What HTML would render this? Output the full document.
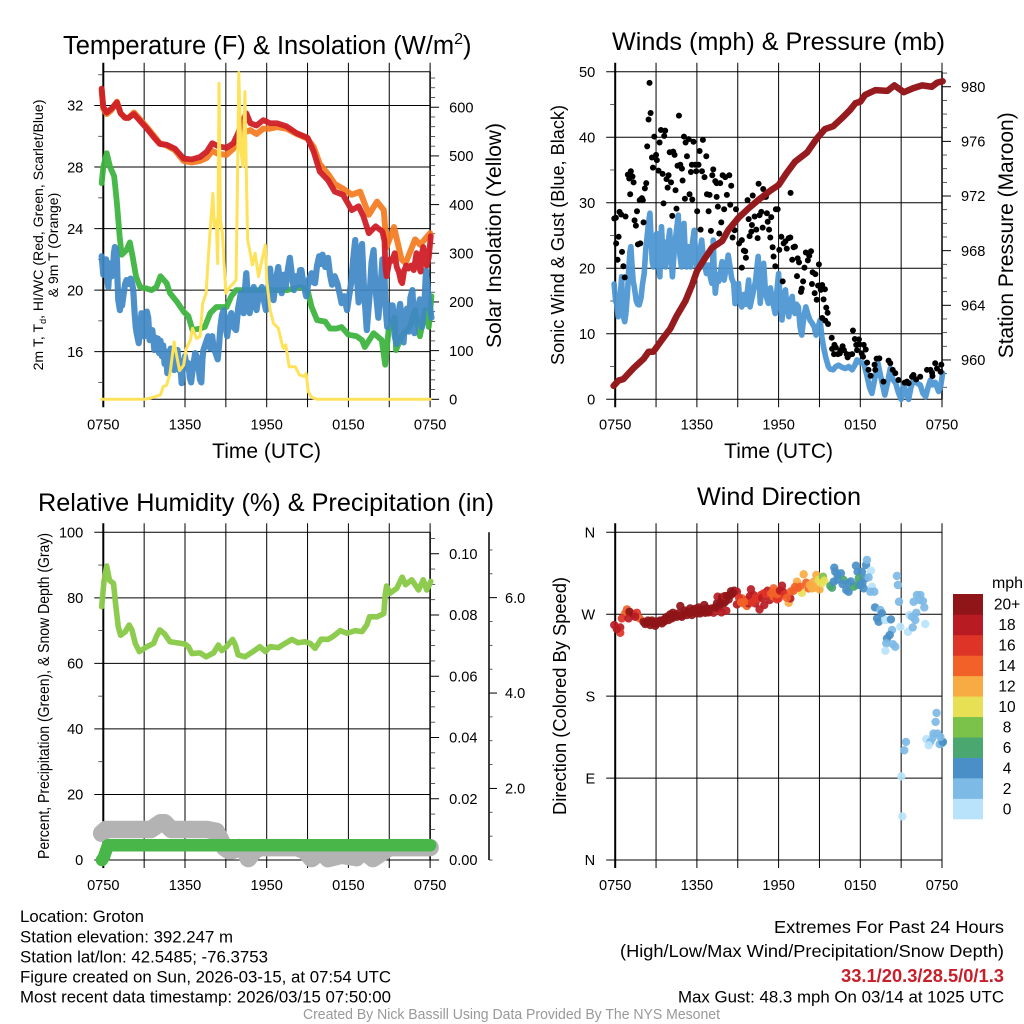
<!DOCTYPE html>
<html lang="en">
<head>
<meta charset="utf-8">
<title>Groton Mesonet Meteogram</title>
<style>
html,body{margin:0;padding:0;background:#fff;width:1024px;height:1024px;overflow:hidden}
svg{display:block}
text{font-family:"Liberation Sans",Arial,sans-serif;fill:#000}
</style>
</head>
<body>
<svg id="figure" xmlns="http://www.w3.org/2000/svg" width="1024" height="1024" viewBox="0 0 1024 1024">
<rect x="0" y="0" width="1024" height="1024" fill="#fff"/>
<g id="p1"></g>
<g id="p2"></g>
<g id="p3"></g>
<g id="p4"></g>

<text x="63" y="54" font-size="25.5">Temperature (F) &amp; Insolation (W/m<tspan font-size="16" dy="-10">2</tspan><tspan dy="10">)</tspan></text>
<text x="612" y="50" font-size="25.2" textLength="333" lengthAdjust="spacingAndGlyphs">Winds (mph) &amp; Pressure (mb)</text>
<text x="38" y="511" font-size="25.2" textLength="456" lengthAdjust="spacingAndGlyphs">Relative Humidity (%) &amp; Precipitation (in)</text>
<text x="697" y="505" font-size="25.2" textLength="164" lengthAdjust="spacingAndGlyphs">Wind Direction</text>

<text x="266.6" y="458" font-size="21" text-anchor="middle">Time (UTC)</text>
<text x="778.6" y="458" font-size="21" text-anchor="middle">Time (UTC)</text>

<text transform="translate(43 235) rotate(-90)" font-size="14.1" text-anchor="middle">2m T, T<tspan font-size="9" dy="3">d</tspan><tspan dy="-3">, HI/WC (Red, Green, Scarlet/Blue)</tspan></text>
<text transform="translate(58 245) rotate(-90)" font-size="14" text-anchor="middle">&amp; 9m T (Orange)</text>
<text transform="translate(501 235.5) rotate(-90)" font-size="20.8" text-anchor="middle" textLength="225" lengthAdjust="spacingAndGlyphs">Solar Insolation (Yellow)</text>
<text transform="translate(564 235) rotate(-90)" font-size="18" text-anchor="middle" textLength="260" lengthAdjust="spacingAndGlyphs">Sonic Wind &amp; Gust (Blue, Black)</text>
<text transform="translate(1013 235.3) rotate(-90)" font-size="20.8" text-anchor="middle" textLength="246" lengthAdjust="spacingAndGlyphs">Station Pressure (Maroon)</text>
<text transform="translate(49 696) rotate(-90)" font-size="15.4" text-anchor="middle" textLength="326" lengthAdjust="spacingAndGlyphs">Percent, Precipitation (Green), &amp; Snow Depth (Gray)</text>
<text transform="translate(566 696) rotate(-90)" font-size="18" text-anchor="middle" textLength="238" lengthAdjust="spacingAndGlyphs">Direction (Colored By Speed)</text>

<text x="992" y="588" font-size="15.5" textLength="31" lengthAdjust="spacingAndGlyphs">mph</text>

<g font-size="16.7">
<text x="20" y="922" textLength="124" lengthAdjust="spacingAndGlyphs">Location: Groton</text>
<text x="20" y="942.3" textLength="213" lengthAdjust="spacingAndGlyphs">Station elevation: 392.247 m</text>
<text x="20" y="962.3" textLength="248" lengthAdjust="spacingAndGlyphs">Station lat/lon: 42.5485; -76.3753</text>
<text x="20" y="982.3" textLength="371" lengthAdjust="spacingAndGlyphs">Figure created on Sun, 2026-03-15, at 07:54 UTC</text>
<text x="20" y="1002.7" textLength="371" lengthAdjust="spacingAndGlyphs">Most recent data timestamp: 2026/03/15 07:50:00</text>
</g>
<g font-size="17.5">
<text x="774" y="933" textLength="230" lengthAdjust="spacingAndGlyphs">Extremes For Past 24 Hours</text>
<text x="620" y="957" textLength="384" lengthAdjust="spacingAndGlyphs">(High/Low/Max Wind/Precipitation/Snow Depth)</text>
<text x="841" y="982" font-size="18" font-weight="bold" style="fill:#c8202b" textLength="163" lengthAdjust="spacingAndGlyphs">33.1/20.3/28.5/0/1.3</text>
<text x="678" y="1002.7" font-size="16.7" textLength="326" lengthAdjust="spacingAndGlyphs">Max Gust: 48.3 mph On 03/14 at 1025 UTC</text>
</g>
<text x="303" y="1019" font-size="14.4" style="fill:#999" textLength="417" lengthAdjust="spacingAndGlyphs">Created By Nick Bassill Using Data Provided By The NYS Mesonet</text>
</svg>

<script>
// ---------- Shared axis data ----------
const timeTickHours = [0,3,6,9,12,15,18,21,24];
const timeTickLabels = ['0750','','1350','','1950','','0150','','0750'];

// ---------- Temperature panel ----------
const tempLeftTicks = [16,20,24,28,32];
const tempLeftMinorTicks = [14,18,22,26,30,34];
const insolationTicks = [0,100,200,300,400,500,600];
const insolationMinorTicks = [20,40,60,80,120,140,160,180,220,240,260,280,320,340,360,380,420,440,460,480,520,540,560,580,620,640,660];

const airTempTimes = [-0.12,0,.25,.6,1,1.27,1.6,1.85,2.25,2.7,3.2,3.7,4.15,4.65,5.25,5.9,6.5,7.1,7.6,8,8.45,9.05,9.55,9.9,10.1,10.5,10.8,11.25,11.75,12.25,12.75,13.45,14.2,15,15.45,15.9,16.5,17,17.6,18.25,18.75,19.1,19.5,20,20.5,20.65,20.72,20.8,20.95,21.05,21.2,21.4,21.55,21.7,21.85,21.95,22.1,22.25,22.4,22.6,22.8,23,23.15,23.3,23.4,23.5,23.65,23.75,23.9,24.05];
const airTempValues = [33.1,31.9,31.55,31.8,32.2,31.5,31.2,31.2,31.45,31,30.5,29.95,29.5,29.45,29.2,28.55,28.5,28.65,29,29.55,29.35,29.25,29.55,30.2,30.7,31.5,30.85,30.7,31.05,30.85,30.85,30.65,30.2,29.9,29,27.7,27.15,26.4,26.2,25.2,25.45,24.8,23.7,24.15,23.8,23.2,21.5,20.9,21.6,22,21.9,22.4,21.5,21.2,20.6,20.45,21.3,21.6,21.4,21.6,21.3,22.4,21.6,21.2,22.4,22.8,22.2,21.6,22.1,23.5];

const temp9mTimes = [-0.12,0,.25,.6,1,1.27,1.6,1.85,2.25,2.7,3.2,3.7,4.15,4.65,5.25,5.9,6.5,7.1,7.6,8,8.45,9.05,9.55,9.9,10.1,10.5,10.8,11.25,11.75,12.25,12.75,13.45,14.2,15,15.45,15.9,16.5,17,17.6,18.25,18.86,19.5,20.1,20.6,20.8,21.35,21.9,22.2,22.9,23.27,24];
const temp9mValues = [33,31.8,31.45,31.7,32.25,31.5,31.2,31.2,31.55,31.1,30.6,30.05,29.55,29.4,29.1,28.4,28.3,28.4,28.6,29.05,28.85,28.8,29.2,29.7,30.2,30.3,30.4,30.15,30.5,30.5,30.6,30.5,30.15,29.85,29.3,28.2,27.55,26.9,26.6,26.2,26.4,24.9,25.75,25.2,22.8,24.1,22,21.75,23.3,22.95,23.7];

const dewPointTimes = [-0.12,0,.25,.5,.8,1,1.2,1.35,1.7,1.95,2.15,2.4,2.7,3.2,3.55,3.9,4.2,4.65,4.9,5.4,5.9,6.25,6.55,7.1,7.45,7.85,8.3,9.05,9.4,9.75,10.5,11.5,12.5,13.5,14.45,15,15.3,15.7,16.3,16.65,17.15,17.5,18,18.6,19,19.2,19.85,20.45,20.7,20.95,21.4,21.5,21.9,22.5,22.9,23.25,23.65,23.9,24.1];
const dewPointValues = [26.95,28,28.9,28,27.4,25.65,23.5,22.3,22.6,23.1,22.2,20.9,20.2,20.1,20,20.2,20.9,20.45,19.8,19.25,18.6,18.3,17.4,17.5,17.6,18.5,18.9,18.9,19.6,20,20,20,20,20,20.2,20,18.9,18.05,17.95,17.5,17.5,17.6,17.1,17,16.75,16.3,17.2,16.75,15.15,17.4,18.2,16.1,17,17.6,18.7,17,18.7,17.6,19.6];

const windChillTimes = [-0.12,0,.1,.2,.3,.37,.45,.54,.62,.7,
.78,.85,.92,1,1.05,1.1,1.22,1.3,1.38,1.47,
1.6,1.7,1.85,2,2.1,2.2,2.3,2.38,2.45,2.6,
2.7,2.8,2.9,3,3.1,3.2,3.3,3.4,3.5,3.6,
3.68,3.75,3.85,3.95,4,4.1,4.2,4.3,4.4,4.5,
4.6,4.7,4.8,4.95,5.05,5.2,5.3,5.45,5.55,5.65,
5.75,5.85,6,6.12,6.25,6.35,6.45,6.6,6.75,6.85,
7,7.1,7.2,7.28,7.35,7.5,7.7,7.85,8,8.1,
8.25,8.4,8.5,8.6,8.72,8.85,8.95,9.1,9.25,9.4,
9.55,9.75,9.9,10.1,10.2,10.3,10.4,10.5,10.62,10.75,
10.9,11.05,11.15,11.25,11.45,11.65,11.8,11.95,12.1,12.25,
12.38,12.5,12.7,12.85,13,13.1,13.25,13.4,13.55,13.7,
13.85,14,14.15,14.3,14.45,14.55,14.7,14.9,15.1,15.3,
15.45,15.55,15.7,15.85,16,16.1,16.3,16.5,16.65,16.8,
17,17.2,17.35,17.5,17.7,17.9,18.05,18.2,18.35,18.5,
18.62,18.75,18.9,19,19.15,19.35,19.55,19.7,19.85,20,
20.2,20.35,20.5,20.62,20.72,20.85,21,21.25,21.4,21.55,
21.7,21.8,21.95,22.05,22.2,22.3,22.45,22.55,22.7,22.85,
23,23.25,23.4,23.6,23.7,23.85,24.1];
const windChillValues = [22.2,21,21.9,22,20.6,20.2,21.5,21.75,20.9,21.1,
22.4,22.8,22.7,22,20.5,19.35,18.7,19.2,19,19.6,
20.4,20.65,20.4,20.75,20.5,20,18.5,17.6,17.2,16.55,
17.3,18.5,18.3,17,17.8,18.6,18.2,16.75,17.3,17.4,
16.8,16.1,16.9,16.2,16.85,15.9,16.7,15.7,16.4,15.2,
16,14.6,15.8,16.2,15,14.8,15.7,16.1,14.8,15.4,
13.95,15,15.7,15,15.25,14.3,14,15.1,15.9,15.7,
14.9,14.2,14,15.5,16.1,16.5,17,16.2,17,16.2,
15.9,15.5,16.4,17.6,18.4,18.7,17.8,17,18,18.5,
17.6,17.4,18.8,19.8,19,18.5,20,21.1,19.5,18.5,
19.6,20.2,19.2,18.7,19.9,20.2,19.3,18.7,20,21.4,
20,19.35,20.8,21.5,20.3,19.8,21,20.2,21.3,22.1,
21,20,20.9,20.3,21.3,21.3,20.4,19.6,20.7,21.1,
20.5,20.45,21.6,22.2,21.7,22.3,21.5,22.1,21,20.35,
20.9,20.4,19.8,19.15,19.6,18.7,19.6,20.45,22,23.25,
21,19.2,22.6,23,20,17.4,19.6,21.8,22.6,20,
18.2,20,22,21.8,19,17.6,19,19,17,16.5,
18.6,19.1,17.5,16.6,18.5,18.8,17.3,19.5,20,17.2,
18.5,19.4,17.6,19.4,21.3,19.8,18.2];

const insolationTimes = [-0.12,3,3.4,3.8,4.2,4.4,4.65,4.9,5.2,5.4,5.6,5.9,6.1,6.4,6.55,6.85,7.1,7.3,7.55,7.7,7.9,8.05,8.15,8.3,8.4,8.5,8.6,8.75,9,9.3,9.55,9.75,9.85,9.95,10.1,10.25,10.4,10.5,10.6,10.8,10.95,11.15,11.4,11.65,11.9,12,12.25,12.5,12.85,13.2,13.4,13.65,14.1,14.4,14.75,14.9,15.05,15.3,15.7,20,24];
const insolationValues = [0,0,2,5.5,9,26,29,53,118,88,59,70,105,122,146,125,129,197,218,286,368,423,355,368,279,649,368,341,218,231,238,245,437,671,512,478,632,471,327,300,276,300,252,286,317,245,184,156,146,105,112,67,67,50,47,53,16,4,0,0,0];

// ---------- Winds panel ----------
const windTicks = [0,10,20,30,40,50];
const windMinorTicks = [5,15,25,35,45];
const pressureTicks = [960,964,968,972,976,980];
const pressureMinorTicks = [958,959,961,962,963,965,966,967,969,970,971,973,974,975,977,978,979,981];

const pressureTimes = [-0.12,.25,.6,1.35,2.1,2.45,2.8,3.45,4.05,4.5,5.15,5.65,6,6.5,7.1,7.85,8.3,9.05,9.8,10.5,11.4,12,12.6,13.2,14.1,14.8,15.4,16,16.65,17.25,17.65,18,18.35,19.1,20,20.5,21.2,21.9,22.55,23.25,23.65,24.05];
const pressureValues = [958.1,958.5,958.6,959.4,960.1,960.6,960.6,961.5,962.3,963.2,964.3,965.5,966.5,967.3,968.2,968.7,969.5,970.4,971.1,971.7,972.4,972.8,973.7,974.5,975.2,976.2,976.9,977.1,977.7,978.3,978.8,978.9,979.4,979.75,979.7,980.1,979.6,979.9,980.1,980,980.3,980.4];

const windSpeedTimes = [-.08,.03,.12,.22,.32,.4,.47,.55,.62,.7,
.78,.9,1,1.08,1.15,1.25,1.32,1.4,1.55,1.65,
1.76,1.9,2,2.13,2.25,2.35,2.45,2.55,2.65,2.72,
2.8,2.92,3.04,3.15,3.28,3.34,3.4,3.5,3.6,3.7,
3.85,4,4.1,4.2,4.35,4.5,4.63,4.75,4.87,4.95,
5.05,5.15,5.25,5.35,5.45,5.55,5.68,5.8,5.9,6,
6.18,6.35,6.5,6.7,6.85,7,7.1,7.16,7.2,7.28,
7.35,7.5,7.6,7.7,7.85,8,8.15,8.3,8.45,8.55,
8.7,8.8,8.92,9.05,9.15,9.3,9.45,9.6,9.8,9.9,
10.1,10.3,10.5,10.65,10.78,10.9,11.05,11.25,11.4,11.55,
11.75,11.85,12,12.12,12.25,12.38,12.5,12.62,12.75,12.88,
13,13.1,13.2,13.32,13.45,13.58,13.7,13.85,14,14.15,
14.3,14.5,14.62,14.75,14.9,15.05,15.18,15.3,15.45,15.65,
15.8,16,16.2,16.4,16.65,16.9,17.15,17.4,17.6,17.75,
18,18.25,18.38,18.5,18.68,18.85,19.05,19.3,19.55,19.8,
20,20.2,20.4,20.6,20.8,21,21.1,21.2,21.35,21.55,
21.72,21.9,22.15,22.4,22.6,22.8,23,23.15,23.3,23.5,
23.75,23.9,24.05];
const windSpeedValues = [17.6,15,14.5,12.6,13.5,16.5,18.7,14,12.5,11.85,
13,16.2,20,22.5,23.3,20,18,17.2,15,14.5,
14.4,15.5,17.5,19.2,23,25,27,28.4,24,21,
20.2,23,25.3,21,18.7,23,26.35,22,24,20.2,
23,25.8,22,18.7,23,25.8,28.1,22,20.2,24,
26.85,22,20.2,23.3,21,20.2,24,25.8,22,20.2,
22,24.3,21,19.2,20.5,18.5,17.7,21,24.3,19,
16.2,19,18,19.2,21,18.2,20,22,20,18.5,
17.7,14.6,17,17.7,15,14.1,16,14.5,18.2,14.1,
16,18,21.8,14.65,18,20.75,16,14.65,17,15,
13.1,16,19.2,15,12.1,15,16.7,14,12.6,15,
15.7,13.5,13.1,14.5,14.1,11,9.8,12.5,14.1,13,
12.1,11.5,11,9.8,11,12.1,9.5,8,6.5,5,
4.6,4.5,5,5.2,4.9,4.7,5,4.5,5.2,6,
5.6,5.5,4.5,3.5,1.8,.9,3,5.5,3,.65,
2.5,4.7,3,2.45,1,0,1.5,2.45,.8,0,
1.8,2.95,2.5,2.2,.9,.4,2,2.95,2.2,2.6,
1.2,2,4];

const gustTimes = [-.07,.05,.07,.25,.17,.32,.44,.5,.6,.7,.76,.93,1.15,1.03,1.27,1.35,1.1,1.6,1.42,1.52,1.67,1.84,1.8,1.96,2.03,2.08,2.18,2.28,2.35,2.45,2.52,2.6,2.7,2.77,2.87,3,3.06,3.26,3.18,3.36,3.48,3.67,3.6,3.55,3.77,3.92,3.85,4.1,4,4.26,4.36,4.19,4.43,4.5,4.68,4.58,4.78,4.9,4.95,5.05,5.12,5.17,5.27,5.4,5.46,5.56,5.66,5.75,5.63,5.88,5.95,6.02,6.12,6.2,6.27,6.37,6.44,6.56,6.69,6.74,6.86,6.93,7.03,7.13,7.2,7.35,7.45,7.45,7.54,7.64,7.71,7.79,7.89,8,8.08,8.2,8.38,8.45,8.52,8.62,8.87,8.77,9.1,9.3,9.45,9.55,9.6,9.3,9.72,9.8,9.87,10,10.1,10.04,10.24,10.36,10.46,10.53,10.6,10.73,10.83,10.87,10.97,11.07,11.14,11.2,11.3,11.39,11.46,11.56,11.63,11.76,11.8,11.93,12.05,12.2,12.3,12.37,12.5,12.6,12.74,12.86,12.88,13,13.1,13.2,13.35,13.4,13.5,13.64,13.7,13.8,13.9,14,14.15,14.25,14.38,14.5,14.65,14.45,14.7,14.8,14.9,14.96,15.1,15.2,15.3,15.4,15.5,15.2,15.6,15.43,15.63,15.9,15.93,16.1,16.2,16.07,16.35,16.53,16.7,16.8,16.5,17,17.07,17.2,17.4,17.46,17.6,17.9,17.7,17.76,17.93,18.1,18.25,18.4,18.2,18.5,18.6,18.76,19.05,19.2,19.4,19.1,19.7,20.08,20.2,20.38,20.57,20.8,21.26,21.43,21.8,21.9,22.1,22.4,21.55,22.9,23.15,23.27,23.5,23.63,23.3,23.95,23.9];
const gustValues = [27.6,27.7,23.8,24.8,21.3,28.6,28.2,22.5,20.3,18.6,27.9,34.3,34.8,33.7,34,33.1,31.3,28.7,27.3,26.5,23.65,23.8,30.4,30.7,30.4,27,32.2,33,38.6,42.7,48.3,43.7,36.9,35.35,40.1,37.3,36.5,39.2,34.9,41.1,34.4,41,40.2,29.9,33.6,34.2,32.3,33.1,37.7,37.8,37.3,28,31.9,29.1,43.3,35.65,35.8,35.2,33.4,40.1,30.6,39.2,37.1,39.7,31.3,34.7,30.5,39.3,35.8,35.8,34.8,28.7,35.8,37.9,25.9,34.8,39.6,33.9,37.1,31.3,28.7,31.2,25.7,34.2,35.1,33.3,33,30.9,29.4,25.3,33,27,34.2,29,33.9,31.2,34.2,29.7,32.6,24.7,29,25.8,23.8,24.3,22.7,22.6,21.6,20.1,30.4,27.5,24.9,25.6,31.1,26.6,27.9,25.9,24.6,32.9,28.1,28.6,26.2,32.1,30.9,30.9,28.4,27.1,25.9,24.7,27.8,23.2,21.8,20.3,29,29,22.8,24.8,18,23.8,24.1,23,24.6,24.7,31.5,21.3,23.2,23.3,18.8,21.5,20.9,16.4,16.9,18,20.1,22.4,21.2,21.9,22.6,19.4,16.2,17.6,19.1,15.2,17.35,20.6,16.7,17.45,15.25,16.8,14,12.4,13.2,12,11.5,9.4,7.7,8.3,7.9,6.9,6.9,7.5,8.1,7.5,7,6.9,6.4,6.8,6.9,10.5,9.2,9.15,8.3,7.5,8.4,7,8.3,7.6,6.5,5.6,4.5,3.6,5.3,6.2,6.25,4.5,2.7,5.9,5.5,4.5,4,2.95,2.55,2.7,3.45,3.7,3.05,3.45,2.45,4.5,4.5,4.05,5.5,4.7,3.55,5.3,4.2];

// ---------- Humidity panel ----------
const humidityTicks = [0,20,40,60,80,100];
const humidityMinorTicks = [10,30,50,70,90];
const precipTicks = [0,0.02,0.04,0.06,0.08,0.10];
const precipTickLabels = ['0.00','0.02','0.04','0.06','0.08','0.10'];
const precipMinorTicks = [0.005,0.01,0.015,0.025,0.03,0.035,0.045,0.05,0.055,0.065,0.07,0.075,0.085,0.09,0.095,0.105];
const snowTicks = [2,4,6];
const snowTickLabels = ['2.0','4.0','6.0'];
const snowMinorTicks = [0.5,1,1.5,2.5,3,3.5,4.5,5,5.5,6.5,7];

const humidityTimes = [-0.12,.05,.25,.45,.75,.9,1.1,1.27,1.6,1.9,2.1,2.35,2.65,3.2,3.7,3.9,4.15,4.5,4.9,5.4,6,6.25,6.5,7.1,7.55,8.1,8.45,8.7,9.05,9.5,9.7,9.9,10.4,11,11.5,11.9,12.25,12.85,13.35,13.85,14.3,14.8,15.2,15.55,16,16.5,16.9,17.4,17.9,18.5,19,19.35,19.55,20.1,20.6,20.7,20.8,21.05,21.55,21.95,22.2,22.65,23.15,23.5,23.75,24.05];
const humidityValues = [77.3,85,89.7,85.4,84.4,78.3,71.1,68.6,69.6,71.7,70.2,66.1,63.6,65.1,66.1,68.2,70.2,69,66.6,66.3,65.9,65.1,63,63.2,62,63.2,65.6,63.9,65.1,67.3,65.6,62.6,62,63.6,65.1,63.6,65.1,64.8,66.1,67.3,66.3,66.6,66.1,64.6,67.4,67.3,68.3,70,69.2,70,69.7,71.7,74.2,74.2,75.2,80.8,83.6,81.4,82.9,86.3,84,85.5,82.4,85.5,82.4,85];

const snowTimes = [-0.12,.2,1,3.5,4.2,4.5,5,7.6,8.3,8.9,9.2,9.5,10,10.4,10.65,11.1,11.5,14.2,14.8,15.3,16,16.5,17.5,18.6,19.1,19.8,20.8,21,24];
const snowValues = [1.06,1.14,1.14,1.14,1.28,1.28,1.14,1.14,1.1,.76,.7,.7,.76,.7,.53,.7,.76,.76,.7,.53,.7,.53,.6,.55,.7,.53,.72,.76,.76];

const precipTimes = [-0.1,.05,.2,.35,24];
const precipValues = [0,.001,.003,.0048,.0048];

// ---------- Wind direction panel ----------
const directionTicks = [0,90,180,270,360];
const directionTickLabels = ['N','E','S','W','N'];
const speedBinLabels = ['0','2','4','6','8','10','12','14','16','18','20+'];
const speedBinColors = ['#b8e3fa','#7dbae6','#4a8fc7','#4aa76f','#7bc24b','#e7e055','#f9ab43','#f26228','#de3327','#b91b23','#8f1518'];

const directionTimes = [-.07,.37,.37,.12,.86,.73,.49,1.05,.98,1.35,1.59,1.79,1.47,2.08,2.33,2.57,2.82,3.06,2.57,2.2,2.94,3.26,3.43,3.55,3.67,3.8,3.92,4.04,4.16,4.24,4.41,4.53,4.65,4.78,4.9,5.02,5.27,5.31,5.51,5.63,5.76,6,6.12,6.24,6.37,6.54,6.61,6.73,6.78,6.98,7.1,7.22,7.35,7.47,7.52,7.59,7.71,7.84,7.96,8.08,8.16,8.33,8.5,8.57,8.74,8.94,8.94,9.31,9.43,9.67,9.67,9.8,9.97,10.16,10.29,10.41,10.6,10.95,10.7,10.9,11.19,11.34,11.63,11.75,11.63,11.88,12.25,12.32,12,12.74,12.86,13.1,13.35,13.59,13.84,13.71,14.03,14.2,14.45,14.57,14.77,15.01,14.94,15.26,15.36,15.8,15.92,16.09,16.16,16.33,16.04,16.58,16.77,17.14,16.97,17.14,17.51,17.76,17.68,17.8,18.12,17.88,18,18.25,18.37,18.42,18.49,18.78,18.61,18.86,18.74,19.03,19.08,19.47,19.59,19.23,19.35,19.84,20.25,20.33,20.16,19.96,19.91,19.84,20.4,20.57,20.69,20.76,20.84,20.94,21.5,21.6,21.85,21.8,22.04,22.11,21.92,22.16,22.41,22.36,22.6,22.7,22.77,21.35,21.23,21.01,21.09,23.6,23.53,23.38,23.68,23.27,22.85,23.14,23.02,24,23.83,24.07,23.88,
2.4,2.7,3,3.3,3.6,4.3,4.8,5.1,5.6,5.9,6.2,6.5,6.85,7.65,7.8,8.05,8.2,8.45,8.65,9.1,9.25,9.55,9.9,10.05,10.3,10.5,10.8,11.05,11.45,11.9,12.1,12.45,12.6,12.9,13.2,13.45,14.3,14.65,15.15,16.3,16.7,17.3,18.15];
const directionDegrees = [258.1,255.5,249.6,253.7,275.3,270.9,265.4,272.7,265.4,269.8,271.6,265.4,267.2,261.7,260.6,261.7,259.9,259.9,258.1,259.2,257.3,261.7,259.9,263.6,265.4,267.2,263.6,269.8,265.4,271.6,269.1,267.2,270.9,279,267.2,270.2,269.1,272.7,276.4,269.1,274.6,270.9,277.5,270.9,275.3,280.1,271.6,276.4,273.8,274.6,276.4,271.6,277.5,281.9,289.2,276.4,282.6,288.5,281.9,283.7,273.8,286.3,295.1,292.2,295.8,294.7,280.8,287.4,281.9,279,285.6,281.9,297.3,291.1,281.9,287.4,275.3,280.1,291.1,292.9,295.8,285.6,298.4,294.7,289.2,286.3,301.3,294.7,287.4,282.6,287.4,295.8,305.7,300.2,313.8,293.6,304.6,298.4,298.4,305.7,313.1,297.3,307.6,311.2,306.8,301,299.1,321.1,316.7,313.1,305.7,314.9,307.6,303.9,296.6,294.7,300.2,302.1,323.3,316.7,316.7,309.4,302.1,298.4,309.4,324.1,329.6,317.8,310.5,300.2,294.7,294.7,277.5,274.6,270.9,265.4,261.7,263.6,264.3,252.6,247.1,243.4,237.9,229.8,237.1,234.2,312,302.1,283.7,256.2,250.7,269.1,255.5,267.2,263.6,271.6,283.7,291.1,291.1,285.6,284.5,277.5,259.2,129.7,120.5,91.9,47.9,161.6,151.7,138.9,138.9,133.4,132.7,129.7,126,128.6,127.2,129.7,135.2,
263,263,262,263,262,267,268,274,272,276,273,273,272,279,272,290,290,291,293,288,283,284,290,283,288,287,288,292,293,292,296,292,288,295,300,299,302,299,304,308,303,306,304];
const directionSpeeds = [18,18,16,18,14,14,16,20,18,20,16,14,18,20,20,20,20,20,20,20,20,20,20,20,20,20,20,20,20,20,20,20,20,20,20,18,20,20,20,20,20,20,20,20,20,20,20,20,20,20,20,18,20,20,18,20,20,20,20,20,18,20,20,20,20,18,18,14,14,14,16,18,18,18,18,16,18,18,16,16,18,18,14,14,14,16,18,18,16,12,18,14,12,14,12,10,14,14,12,12,12,12,10,8,10,6,6,4,4,4,4,4,6,4,4,4,6,6,4,4,4,6,4,4,4,4,2,0,2,0,2,2,4,2,4,4,4,0,4,2,4,4,2,0,2,2,2,2,2,0,0,0,2,2,2,2,2,2,2,2,2,2,0,2,2,0,0,2,2,2,2,2,0,2,0,4,2,4,2,
20,20,20,20,20,20,20,20,20,20,20,20,20,20,18,18,20,20,20,16,14,14,18,16,16,16,18,16,14,14,18,16,14,14,14,14,12,12,10,4,4,4,4];

// ---------- Layout ----------
const panelLeftA = 103.3, panelLeftB = 615.2, panelWidth = 326.8;
const rowOneTop = 71.7, rowOneBottom = 399.3, rowTwoTop = 532.3, rowTwoBottom = 860;
const svgNS = 'http://www.w3.org/2000/svg';

function timeX(left){ return t => left + (t / 24) * panelWidth; }
function linearY(min, max, top, bottom){ return v => bottom - (v - min) / (max - min) * (bottom - top); }

function mk(parent, tag, attrs){
  const el = document.createElementNS(svgNS, tag);
  for (const k in attrs) el.setAttribute(k, attrs[k]);
  parent.appendChild(el);
  return el;
}

function drawLine(parent, times, values, x, y, color, width, opacity, name){
  const pts = times.map((t, i) => x(t).toFixed(2) + ',' + y(values[i]).toFixed(2)).join(' ');
  const el = mk(parent, 'polyline', {points: pts, fill: 'none', stroke: color, 'stroke-width': width, 'stroke-linejoin': 'round', 'stroke-linecap': 'round', 'stroke-opacity': opacity});
  
  
  return el;
}

function drawTimeAxis(parent, left, top, bottom){
  const x = timeX(left);
  timeTickHours.forEach((h, i) => {
    const line = mk(parent, 'line', {x1: x(h), x2: x(h), y1: top - 9, y2: bottom + 8, stroke: '#000', 'stroke-width': (i === 0 ? 2 : 1)});
    
    
    if (timeTickLabels[i]) {
      const label = mk(parent, 'text', {x: x(h), y: bottom + 30, 'font-size': 14.6, 'text-anchor': 'middle'});
      label.textContent = timeTickLabels[i];
      
      
    }
  });
}

function drawLeftAxis(parent, left, y, ticks, labels, minors){
  ticks.forEach((v, i) => {
    const line = mk(parent, 'line', {x1: left - 9, x2: left + panelWidth, y1: y(v), y2: y(v), stroke: '#000', 'stroke-width': 1});
    
    
    const label = mk(parent, 'text', {x: left - 20, y: y(v) + 5.2, 'font-size': 14.6, 'text-anchor': 'end'});
    label.textContent = labels[i];
    
    
  });
  minors.forEach(v => {
    const tick = mk(parent, 'line', {x1: left - 5, x2: left, y1: y(v), y2: y(v), stroke: '#333', 'stroke-width': 0.8});
    
    
  });
}

function drawRightAxis(parent, axisX, y, top, bottom, ticks, labels, minors, labelGap, majorLen, minorLen){
  const axis = mk(parent, 'line', {x1: axisX, x2: axisX, y1: top, y2: bottom, stroke: '#000', 'stroke-width': 1.5});
  
  
  ticks.forEach((v, i) => {
    const tick = mk(parent, 'line', {x1: axisX, x2: axisX + majorLen, y1: y(v), y2: y(v), stroke: '#000', 'stroke-width': 1});
    
    
    const label = mk(parent, 'text', {x: axisX + labelGap, y: y(v) + 5.2, 'font-size': 14.6});
    label.textContent = labels[i];
    
    
  });
  minors.forEach(v => {
    const tick = mk(parent, 'line', {x1: axisX, x2: axisX + minorLen, y1: y(v), y2: y(v), stroke: '#333', 'stroke-width': 0.8});
    
    
  });
}

// ---------- Panel 1: temperature & insolation ----------
(function(){
  const g = document.getElementById('p1');
  const x = timeX(panelLeftA);
  const yT = linearY(12.9, 34.2, rowOneTop, rowOneBottom);
  const yS = linearY(0, 673, rowOneTop, rowOneBottom);
  drawTimeAxis(g, panelLeftA, rowOneTop, rowOneBottom);
  drawLeftAxis(g, panelLeftA, yT, tempLeftTicks, tempLeftTicks.map(String), tempLeftMinorTicks);
  const topLine = mk(g, 'line', {x1: panelLeftA, x2: panelLeftA + panelWidth, y1: rowOneTop, y2: rowOneTop, stroke: '#000', 'stroke-width': 1});
  
  
  const botLine = mk(g, 'line', {x1: panelLeftA, x2: panelLeftA + panelWidth, y1: rowOneBottom, y2: rowOneBottom, stroke: '#000', 'stroke-width': 1});
  
  
  drawRightAxis(g, panelLeftA + panelWidth, yS, rowOneTop, rowOneBottom, insolationTicks, insolationTicks.map(String), insolationMinorTicks, 19, 9, 5);
  drawLine(g, dewPointTimes, dewPointValues, x, yT, '#3fb440', 5.8, 0.95, 'dewpoint-line');
  drawLine(g, windChillTimes, windChillValues, x, yT, '#3f88c5', 6.2, 0.92, 'wind-chill-line');
  drawLine(g, temp9mTimes, temp9mValues, x, yT, '#f47a20', 6, 0.92, 'temperature-9m-line');
  drawLine(g, airTempTimes, airTempValues, x, yT, '#cf1f27', 5.8, 0.95, 'temperature-2m-line');
  drawLine(g, insolationTimes, insolationValues, x, yS, '#fee25a', 3, 1, 'solar-insolation-line');
})();

// ---------- Panel 2: winds & pressure ----------
(function(){
  const g = document.getElementById('p2');
  const x = timeX(panelLeftB);
  const yW = linearY(0, 50, rowOneTop, rowOneBottom);
  const yP = linearY(957.12, 981.1, rowOneTop, rowOneBottom);
  drawTimeAxis(g, panelLeftB, rowOneTop, rowOneBottom);
  drawLeftAxis(g, panelLeftB, yW, windTicks, windTicks.map(String), windMinorTicks);
  drawRightAxis(g, panelLeftB + panelWidth, yP, rowOneTop, rowOneBottom, pressureTicks, pressureTicks.map(String), pressureMinorTicks, 19, 9, 5);
  drawLine(g, windSpeedTimes, windSpeedValues, x, yW, '#4f97d3', 5.6, 0.95, 'sonic-wind-line');
  gustTimes.forEach((t, i) => {
    const dot = mk(g, 'circle', {cx: x(t), cy: yW(gustValues[i]), r: 3, fill: '#000'});
    
    
  });
  drawLine(g, pressureTimes, pressureValues, x, yP, '#941619', 6.5, 0.98, 'pressure-line');
})();

// ---------- Panel 3: humidity & precipitation ----------
(function(){
  const g = document.getElementById('p3');
  const x = timeX(panelLeftA);
  const yH = linearY(0, 100, rowTwoTop, rowTwoBottom);
  const yR = linearY(0, 0.107, rowTwoTop, rowTwoBottom);
  const ySn = linearY(0.5, 7.37, rowTwoTop, rowTwoBottom);
  drawTimeAxis(g, panelLeftA, rowTwoTop, rowTwoBottom);
  drawLeftAxis(g, panelLeftA, yH, humidityTicks, humidityTicks.map(String), humidityMinorTicks);
  drawRightAxis(g, panelLeftA + panelWidth, yR, rowTwoTop, rowTwoBottom, precipTicks, precipTickLabels, precipMinorTicks, 19, 9, 5);
  drawRightAxis(g, 489, ySn, rowTwoTop, rowTwoBottom, snowTicks, snowTickLabels, snowMinorTicks, 16, 8, 3.5);
  drawLine(g, snowTimes, snowValues, x, ySn, '#b3b3b3', 17.5, 1, 'snow-depth-line');
  drawLine(g, humidityTimes, humidityValues, x, yH, '#8ccb4c', 5.6, 0.98, 'relative-humidity-line');
  drawLine(g, precipTimes, precipValues, x, yR, '#49b649', 12.5, 1, 'precipitation-line');
})();

// ---------- Panel 4: wind direction ----------
(function(){
  const g = document.getElementById('p4');
  const x = timeX(panelLeftB);
  const yD = linearY(0, 360, rowTwoTop, rowTwoBottom);
  drawTimeAxis(g, panelLeftB, rowTwoTop, rowTwoBottom);
  drawLeftAxis(g, panelLeftB, yD, directionTicks, directionTickLabels, []);
  const rightLine = mk(g, 'line', {x1: panelLeftB + panelWidth, x2: panelLeftB + panelWidth, y1: rowTwoTop, y2: rowTwoBottom, stroke: '#000', 'stroke-width': 1});
  
  
  directionTimes.forEach((t, i) => {
    const bin = Math.min(10, Math.floor(directionSpeeds[i] / 2));
    const dot = mk(g, 'circle', {cx: x(t), cy: yD(directionDegrees[i]), r: 4.2, fill: speedBinColors[bin], 'fill-opacity': 0.92});
    
    
  });
  const barTop = 594, barHeight = 225, barX = 953, barW = 30;
  const n = speedBinColors.length;
  speedBinColors.forEach((c, i) => {
    const row = n - 1 - i;
    const box = mk(g, 'rect', {x: barX, y: barTop + row * barHeight / n, width: barW, height: barHeight / n + 0.3, fill: c});
    
    
    const label = mk(g, 'text', {x: 1007, y: barTop + (row + 0.5) * barHeight / n + 5.5, 'font-size': 15.5, 'text-anchor': 'middle'});
    label.textContent = speedBinLabels[i];
    
    
  });
})();
</script>
</body>
</html>
